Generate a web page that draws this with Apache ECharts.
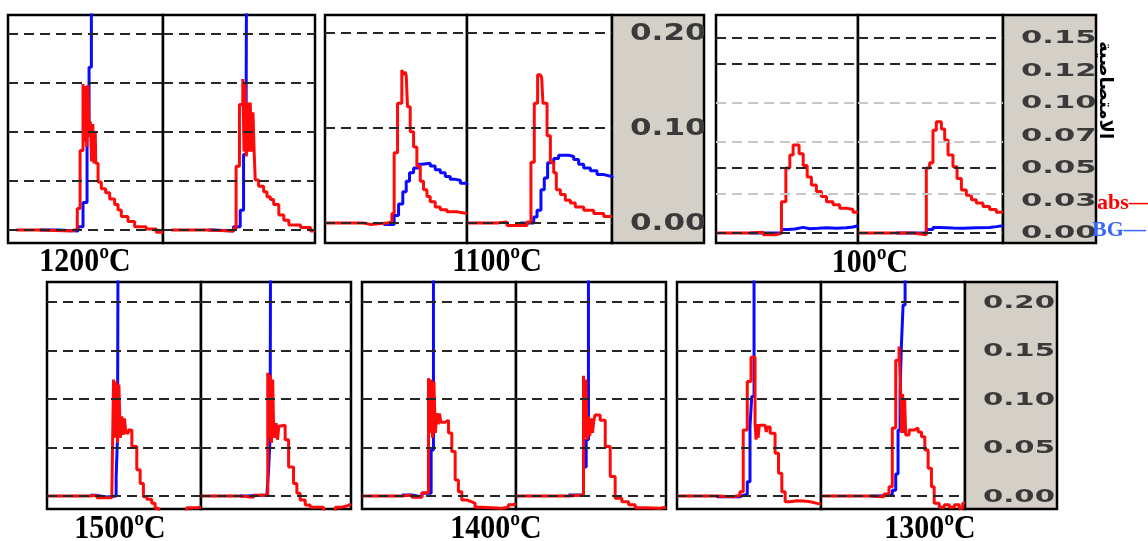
<!DOCTYPE html>
<html>
<head>
<meta charset="utf-8">
<script src="https://cdn.jsdelivr.net/npm/echarts@6/dist/echarts.min.js"></script>
<style>
  html, body { margin: 0; padding: 0; background: #fff; }
  #chart { width: 1148px; height: 541px; }
</style>
</head>
<body>
<div id="chart"></div>
<script>
// time runs 0..100 across each sub-plot, values are absorbance
var abs1200L = [[5.4,0],[20.4,-0.001],[40.9,0.0007],[44.7,0.022],[46.5,0.081],[48.4,0.149],[49.2,0.09],[50,0.147],[50.8,0.085],[51.6,0.148],[52.4,0.095],[53.1,0.111],[53.9,0.07],[54.7,0.108],[55.5,0.068],[56.3,0.1],[56.6,0.068],[58.1,0.049],[60.2,0.042],[63,0.038],[65.6,0.0315],[68.8,0.026],[71,0.0205],[73.1,0.0137],[77.4,0.0086],[81.7,0.0034],[89.2,0.001],[95.7,-0.0024],[100,-0.0024]];
var bg1200L = [[20.4,0],[32.3,-0.001],[45.2,0.0034],[48.4,0.028],[51,0.111],[52.3,0.166],[53.8,0.6],[55.9,0.6]];
var abs1200R = [[5.5,0],[28.7,-0.001],[46.4,0.0014],[48.1,0.065],[50.3,0.128],[52.5,0.154],[53.3,0.08],[54,0.15],[54.8,0.075],[55.6,0.13],[56.3,0.08],[57.4,0.13],[58.3,0.08],[59.2,0.12],[60,0.078],[60.7,0.051],[62.9,0.0445],[66.2,0.039],[68.4,0.034],[70.6,0.031],[72.8,0.026],[76.2,0.0154],[79.5,0.01],[82.8,0.005],[90.5,0.0024],[97.1,-0.001],[100,-0.001]];
var bg1200R = [[29.8,0],[33.1,-0.001],[46.4,0.0034],[50.8,0.02],[53,0.077],[54.7,0.134],[55.6,0.6],[57.4,0.6]];

var abs1100L = [[0,0],[27,-0.0014],[31.8,0],[43.5,0.001],[47.1,0.01],[48.7,0.074],[51.1,0.126],[54.1,0.161],[55.3,0.156],[56.5,0.159],[57.2,0.155],[58.1,0.1225],[60,0.096],[62.4,0.08],[64.7,0.06],[67.1,0.044],[69.4,0.035],[71.8,0.028],[74.1,0.0225],[77.6,0.017],[81.2,0.014],[85.9,0.0118],[92.9,0.01],[100,0.0093]];
var bg1100L = [[41.2,-0.0014],[48.7,0.008],[51.8,0.02],[54.8,0.033],[57.2,0.044],[59.5,0.053],[62.4,0.058],[65.9,0.062],[68.2,0.063],[74.1,0.06],[77.6,0.056],[81.2,0.053],[84.7,0.049],[88.2,0.046],[91.8,0.045],[95.3,0.042],[100,0.04]];
var abs1100R = [[0,0],[20.7,0.001],[27.6,-0.0025],[41.4,0.001],[44.1,0.064],[46.4,0.126],[48.7,0.156],[50.6,0.158],[51.5,0.153],[52.4,0.126],[55.2,0.092],[57.5,0.064],[59.8,0.053],[61.6,0.035],[64.4,0.03],[67.8,0.024],[71.3,0.021],[74.7,0.017],[80.5,0.0136],[87.4,0.01],[94.3,0.007],[100,0.0064]];
var bg1100R = [[36.8,0],[46,0.0064],[48.3,0.0136],[51,0.035],[53.3,0.0475],[55.6,0.0636],[59.8,0.068],[63.2,0.0714],[70.1,0.07],[73.6,0.067],[77,0.062],[80.5,0.058],[85.1,0.055],[89.7,0.051],[94.3,0.049],[100,0.0475]];

var abs100L = [[0,0],[23.9,0.0005],[33.3,-0.0013],[42.6,0],[46.1,0.024],[49.2,0.05],[52,0.06],[54.3,0.0677],[58.5,0.061],[61.4,0.052],[64.2,0.043],[67.2,0.037],[70.7,0.032],[74.2,0.028],[77.8,0.024],[82.4,0.0217],[87.1,0.019],[91.8,0.018],[96.5,0.016],[100,0.016]];
var bg100L = [[23.9,0],[46.1,0.0026],[50.8,0.003],[55.5,0.0043],[61.4,0.0033],[66,0.0036],[71.9,0.004],[77.8,0.0036],[84.8,0.004],[91.8,0.0046],[96.5,0.0056],[100,0.0056]];
var abs100R = [[0,0],[37.9,-0.0013],[47.1,0.05],[49.4,0.054],[51.7,0.079],[54,0.0856],[57.5,0.08],[59.8,0.0716],[62.1,0.06],[65.5,0.051],[68.3,0.042],[71.3,0.033],[74.7,0.029],[78.2,0.0256],[81.6,0.023],[86.2,0.0204],[90.8,0.018],[95.4,0.016],[100,0.016]];
var bg100R = [[26.4,0],[47.1,0.0026],[51.7,0.0043],[56.3,0.0038],[65.5,0.0036],[72.4,0.0041],[81.6,0.0043],[90.8,0.0049],[95.4,0.0056],[100,0.0051]];

var abs1500L = [[0,0],[28.1,0.0007],[32.4,-0.0017],[42.1,0.001],[43.2,0.12],[44,0.06],[44.9,0.118],[45.8,0.055],[46.7,0.115],[47.6,0.06],[48.6,0.082],[49.5,0.063],[50.3,0.08],[51.2,0.065],[52.9,0.068],[55.1,0.051],[58.3,0.027],[60.5,0.013],[62.6,-0.0007],[64.8,-0.0034],[68,-0.0076],[70.2,-0.0127],[72.4,-0.02],[90.7,-0.012],[97.2,-0.0117],[100,-0.0117]];
var bg1500L = [[28.1,0.0007],[31.3,-0.001],[38.9,0],[44.9,0.02],[45.8,0.061],[46.7,0.6],[48.6,0.6]];
var abs1500R = [[0,0],[26.1,-0.0014],[35,0.0007],[44.5,0.127],[45.3,0.06],[46.1,0.125],[47,0.055],[47.8,0.12],[48.3,0.078],[49.2,0.06],[50.1,0.075],[51,0.058],[51.9,0.072],[52.8,0.073],[56.1,0.058],[58.4,0.03],[61.7,0.013],[63.9,0.0028],[66.1,-0.004],[69.5,-0.0093],[72.8,-0.0117],[79.5,-0.0117],[81.7,-0.02],[89.5,-0.0117],[92.9,-0.0103],[97.3,-0.0083],[100,-0.0076]];
var bg1500R = [[26.1,0],[30.5,0.001],[43.9,0],[45,0.025],[46.1,0.061],[46.8,0.6],[48.3,0.6]];

var abs1400L = [[0,0],[25.9,0.001],[32.4,-0.0014],[38.9,0.0034],[43.2,0.1215],[44,0.065],[44.9,0.12],[45.8,0.06],[46.7,0.118],[47.6,0.065],[48.6,0.0854],[49.5,0.074],[50.3,0.085],[51.2,0.076],[54,0.078],[56.2,0.065],[58.3,0.046],[60.5,0.0165],[62.6,0.0045],[64.8,-0.004],[68,-0.006],[71.3,-0.0076],[73.4,-0.0117],[77.8,-0.0127],[90.7,-0.0117],[95,-0.009],[98.3,-0.008],[100,-0.008]];
var bg1400L = [[25.9,0.001],[32.4,-0.001],[38.9,0.0028],[44.9,0.0475],[46.4,0.6],[48.6,0.6]];
var abs1400R = [[0,0],[35,0.001],[45,0.124],[45.8,0.06],[46.6,0.12],[47.4,0.058],[48.3,0.082],[49.2,0.062],[50.1,0.08],[51,0.065],[51.9,0.078],[52.8,0.0836],[56.1,0.078],[59.5,0.051],[62.8,0.02],[66.1,-0.0024],[70.6,-0.006],[75.1,-0.009],[79.5,-0.012],[86.2,-0.0127],[96.2,-0.0117],[100,-0.011]];
var bg1400R = [[35,0.001],[45,0.03],[46.8,0.058],[48.3,0.6],[50.1,0.6]];

var abs1300L = [[0,0],[27.4,-0.0007],[39.1,0.0007],[43.7,0.0045],[46,0.068],[48.8,0.118],[51.4,0.143],[54.2,0.075],[54.9,0.058],[55.6,0.074],[56.3,0.06],[57.2,0.073],[61.2,0.0716],[62,0.066],[62.8,0.071],[64.7,0.0647],[68.1,0.044],[70.5,0.0234],[72.8,0.0045],[75.1,-0.006],[78.6,-0.005],[83.3,-0.0052],[87.9,-0.006],[92.6,-0.0076],[97.2,-0.0083],[100,-0.0076]];
var bg1300L = [[27.4,-0.0007],[43.7,0.0007],[46,0.002],[48.8,0.0148],[50.7,0.0716],[51.9,0.1026],[53.5,0.6],[55.3,0.6]];
var abs1300R = [[0,0],[34.4,-0.0007],[43.7,0.002],[47.2,0.0096],[49.5,0.07],[51.9,0.14],[54.2,0.154],[55.3,0.108],[56,0.065],[56.7,0.105],[57.4,0.065],[58.1,0.1],[58.8,0.063],[61.2,0.068],[64.7,0.07],[67.4,0.066],[69.8,0.061],[72.1,0.0475],[74.4,0.0286],[76.7,0.0096],[78.6,-0.0076],[82.1,-0.0117],[85.6,-0.009],[89.1,-0.0117],[92.6,-0.009],[96,-0.0127],[98.4,-0.0076],[100,-0.0076]];
var bg1300R = [[34.4,0],[39.1,0.0007],[49.5,0.006],[51.9,0.0227],[53.5,0.068],[54.9,0.108],[55.8,0.154],[57,0.197],[58.4,0.6],[60,0.6]];

// dashed reference levels and the tick labels of the grey scale strips
var levels5 = [0, 0.05, 0.1, 0.15, 0.2];
var levels3 = [0, 0.1, 0.2];
var levels7 = [0, 0.025, 0.05, 0.075, 0.1, 0.125, 0.15];
var faint7 = [0.025, 0.075, 0.1];
var ticks1100 = [0, 0.1, 0.2];
var tickText1100 = ['0.00', '0.10', '0.20'];
var ticks100 = [0, 0.025, 0.05, 0.075, 0.1, 0.125, 0.15];
var tickText100 = ['0.00', '0.03', '0.05', '0.07', '0.10', '0.12', '0.15'];
var ticks1300 = [0, 0.05, 0.1, 0.15, 0.2];
var tickText1300 = ['0.00', '0.05', '0.10', '0.15', '0.20'];

var panels = [
    { label: '1200ºC', lx: 85, ly: 262, top: 15, height: 228, edges: [8, 163, 315], min: -0.0133, max: 0.2194,
      levels: levels5, faint: [], traces: [[abs1200L, bg1200L], [abs1200R, bg1200R]] },
    { label: '1100ºC', lx: 497, ly: 262, top: 15, height: 228, edges: [325, 467, 612], strip: 704, min: -0.021, max: 0.219,
      levels: levels3, faint: [], traces: [[abs1100L, bg1100L], [abs1100R, bg1100R]],
      ticks: ticks1100, tickText: tickText1100, font: 23, sx: 1.35 },
    { label: '100ºC', lx: 870, ly: 263, top: 15, height: 228, edges: [716, 858, 1003], strip: 1096, min: -0.0077, max: 0.1677,
      levels: levels7, faint: faint7, traces: [[abs100L, bg100L], [abs100R, bg100R]],
      ticks: ticks100, tickText: tickText100, font: 17, sx: 1.8 },
    { label: '1500ºC', lx: 120, ly: 529, top: 282, height: 227, edges: [47, 201, 351], min: -0.0134, max: 0.2206,
      levels: levels5, faint: [], traces: [[abs1500L, bg1500L], [abs1500R, bg1500R]] },
    { label: '1400ºC', lx: 496, ly: 529, top: 282, height: 227, edges: [362, 516, 666], min: -0.0134, max: 0.2206,
      levels: levels5, faint: [], traces: [[abs1400L, bg1400L], [abs1400R, bg1400R]] },
    { label: '1300ºC', lx: 930, ly: 529, top: 282, height: 227, edges: [677, 821, 965], strip: 1057, min: -0.0134, max: 0.2206,
      levels: levels5, faint: [], traces: [[abs1300L, bg1300L], [abs1300R, bg1300R]],
      ticks: ticks1300, tickText: tickText1300, font: 18, sx: 1.62 }
];

var option = { animation: false, grid: [], xAxis: [], yAxis: [], series: [], graphic: [] };
var gi = 0;

var addGrid = function (left, top, width, height, bg, min, max) {
    option.grid.push({ left: left, top: top, width: width, height: height, show: true,
        backgroundColor: bg, borderColor: '#000', borderWidth: 2.5 });
    option.xAxis.push({ gridIndex: gi, type: 'value', min: 0, max: 100, show: false });
    option.yAxis.push({ gridIndex: gi, type: 'value', min: min, max: max, show: false });
    return gi++;
};

panels.forEach(function (p) {
    for (var i = 0; i < 2; i++) {
        var idx = addGrid(p.edges[i], p.top, p.edges[i + 1] - p.edges[i], p.height, '#fff', p.min, p.max);
        var marks = p.levels.map(function (v) {
            var light = p.faint.indexOf(v) >= 0;
            return { yAxis: v, lineStyle: { color: light ? '#c8c8c8' : '#262626', type: [10, 6], width: 1.8 } };
        });
        option.series.push({
            type: 'line', xAxisIndex: idx, yAxisIndex: idx, data: p.traces[i][1], step: 'end',
            symbol: 'none', z: 3, lineStyle: { color: '#0a0aff', width: 3 },
            markLine: { silent: true, symbol: ['none', 'none'], label: { show: false }, data: marks }
        });
        option.series.push({
            type: 'line', xAxisIndex: idx, yAxisIndex: idx, data: p.traces[i][0], step: 'end',
            symbol: 'none', z: 4, lineStyle: { color: '#ff0a0a', width: 3 }
        });
    }
    if (p.strip) {
        var sIdx = addGrid(p.edges[2], p.top, p.strip - p.edges[2], p.height, '#d4d0c8', p.min, p.max);
        option.series.push({
            type: 'custom', xAxisIndex: sIdx, yAxisIndex: sIdx, clip: true, z: 5,
            data: p.ticks.map(function (v) { return [0, v]; }),
            renderItem: function (params, api) {
                var pt = api.coord([0, api.value(1)]);
                return {
                    type: 'text', x: pt[0] + 18, y: pt[1] + 1, scaleX: p.sx,
                    style: { text: p.tickText[params.dataIndex], fill: '#3a3a3a',
                        font: 'bold ' + p.font + 'px "DejaVu Sans"', align: 'left', verticalAlign: 'middle',
                        textAlign: 'left', textVerticalAlign: 'middle' }
                };
            }
        });
    }
    option.graphic.push({
        type: 'text', x: p.lx, y: p.ly, z: 10, scaleX: 0.88,
        style: { text: p.label, fill: '#000', font: 'bold 34px "Liberation Serif"',
            align: 'center', verticalAlign: 'middle', textAlign: 'center', textVerticalAlign: 'middle' }
    });
});

// legend and the vertical axis name at the right edge
option.graphic.push({
    type: 'text', x: 1097, y: 203, z: 10,
    style: { text: 'abs—', fill: '#ff0000', font: 'bold 22px "Liberation Serif"',
        align: 'left', verticalAlign: 'middle', textAlign: 'left', textVerticalAlign: 'middle' }
});
option.graphic.push({
    type: 'text', x: 1092, y: 230, z: 10,
    style: { text: 'BG—', fill: '#3366ff', font: 'bold 22px "Liberation Serif"',
        align: 'left', verticalAlign: 'middle', textAlign: 'left', textVerticalAlign: 'middle' }
});
option.graphic.push({
    type: 'text', x: 1105, y: 90, rotation: -Math.PI / 2, z: 10,
    style: { text: 'الامتصاصية', fill: '#000', font: 'bold 18px "DejaVu Sans"',
        align: 'center', verticalAlign: 'middle', textAlign: 'center', textVerticalAlign: 'middle' }
});

var chart = echarts.init(document.getElementById('chart'));
chart.setOption(option);
</script>
</body>
</html>
